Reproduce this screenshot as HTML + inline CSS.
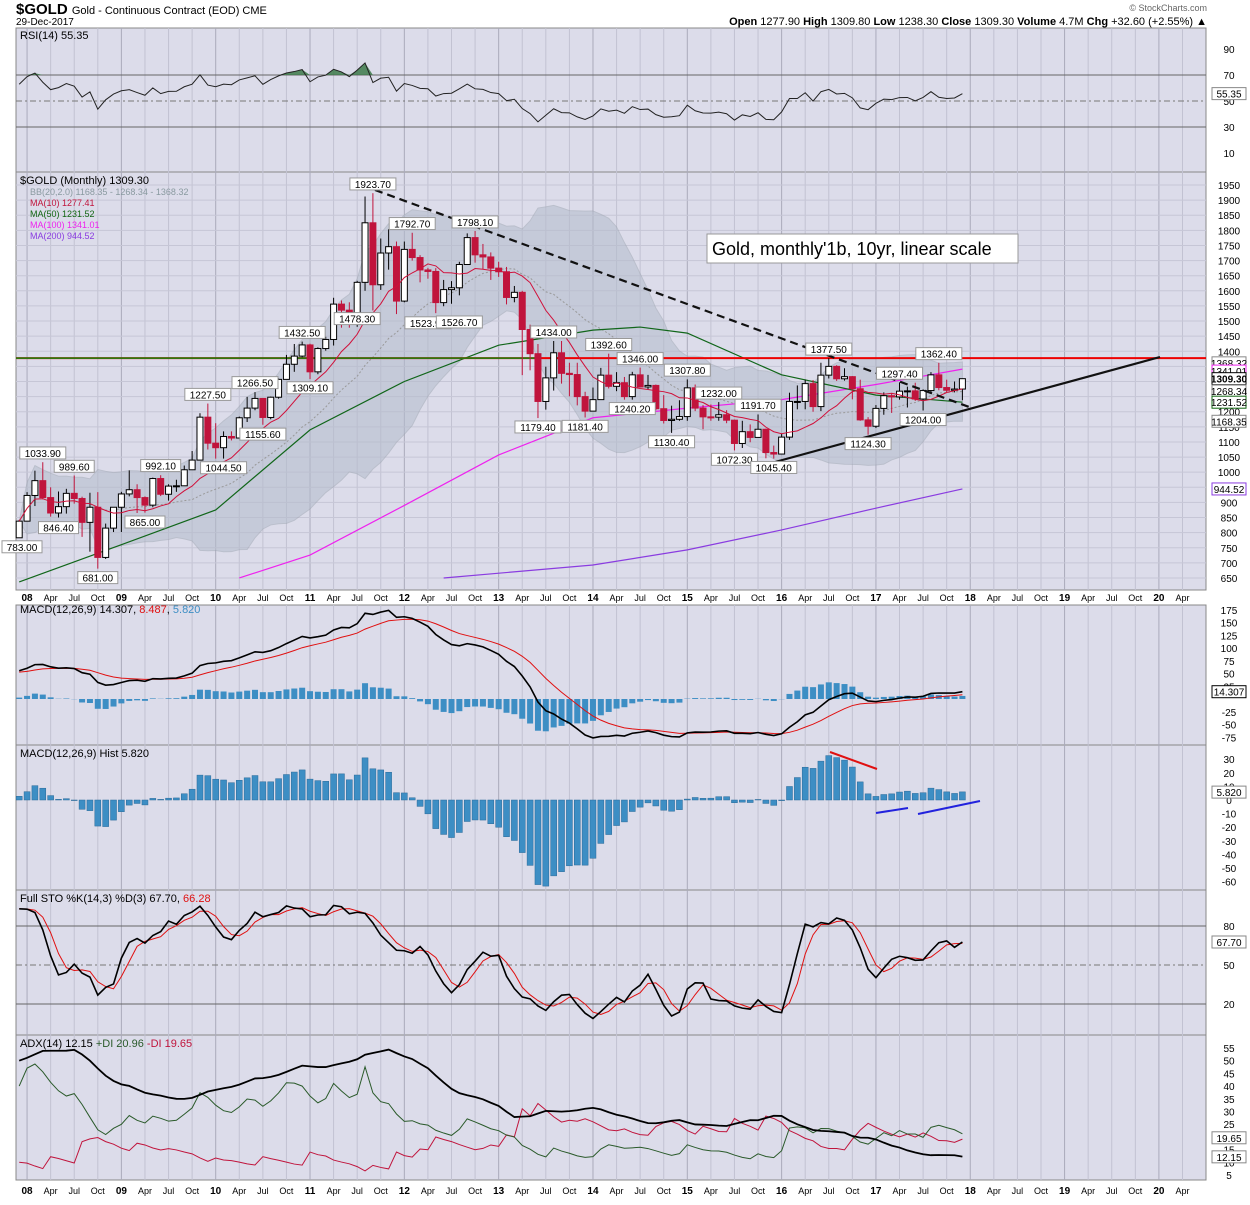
<!DOCTYPE html>
<html><head><meta charset="utf-8"><style>
body{margin:0;background:#fff;font-family:"Liberation Sans",sans-serif;}
svg text{font-family:"Liberation Sans",sans-serif;}
</style></head><body>
<svg id="c" width="1250" height="1200" xmlns="http://www.w3.org/2000/svg">
<text x="16" y="14" font-size="15" font-weight="bold">$GOLD <tspan font-size="11" font-weight="normal">Gold - Continuous Contract (EOD) CME</tspan></text>
<text x="16" y="25" font-size="10">29-Dec-2017</text>
<text x="1207" y="25" font-size="11" text-anchor="end"><tspan font-weight="bold">Open</tspan> 1277.90 <tspan font-weight="bold">High</tspan> 1309.80 <tspan font-weight="bold">Low</tspan> 1238.30 <tspan font-weight="bold">Close</tspan> 1309.30 <tspan font-weight="bold">Volume</tspan> 4.7M <tspan font-weight="bold">Chg</tspan> +32.60 (+2.55%) ▲</text>
<text x="1207" y="11" font-size="9" text-anchor="end" fill="#666">© StockCharts.com</text>
<g id="g"></g>
</svg>
<script>
const closes=[838,
923,972,916,865,886,930,913,834,884,718,815,884,
928,942,916,891,979,927,954,955,1008,1040,1182,1096,
1081,1118,1113,1180,1212,1244,1181,1248,1307,1357,1384,1421,
1332,1409,1439,1556,1536,1500,1628,1825,1620,1725,1746,1566,
1737,1710,1669,1664,1561,1604,1610,1687,1776,1719,1712,1675,
1663,1578,1595,1472,1392,1234,1312,1395,1327,1323,1250,1202,
1240,1321,1284,1296,1250,1322,1282,1287,1210,1171,1175,1184,
1279,1212,1183,1182,1190,1172,1095,1134,1115,1142,1065,1060,
1116,1234,1234,1293,1217,1321,1350,1309,1316,1276,1173,1152,
1211,1253,1249,1268,1269,1242,1270,1322,1280,1271,1275,1309.3];
const highs=[842,
934,1005,1033,950,936,945,989,919,932,934,830,881,
935,1006,960,920,982,990,960,975,1022,1070,1195,1227,
1162,1135,1135,1184,1249,1265,1200,1250,1310,1388,1424,1432,
1425,1413,1448,1577,1568,1562,1633,1912,1923,1773,1804,1763,
1763,1792,1718,1676,1675,1636,1632,1696,1790,1798,1755,1727,
1696,1679,1616,1600,1488,1424,1349,1434,1434,1362,1362,1266,
1280,1345,1392,1331,1315,1332,1346,1322,1290,1255,1220,1238,
1307,1290,1222,1224,1232,1205,1174,1170,1158,1191,1144,1088,
1128,1263,1287,1306,1305,1362,1377,1354,1344,1318,1306,1182,
1222,1264,1262,1297,1283,1296,1274,1331,1362,1306,1300,1310];
const lows=[783,
846,888,910,853,850,863,896,786,737,681,713,802,
802,920,865,866,884,921,906,935,997,1022,1040,1075,
1045,1045,1105,1116,1166,1205,1157,1175,1243,1315,1332,1380,
1308,1324,1402,1419,1478,1478,1481,1600,1535,1603,1670,1523,
1562,1700,1628,1640,1526,1549,1557,1585,1686,1693,1672,1636,
1646,1555,1562,1321,1337,1179,1207,1270,1293,1251,1221,1181,
1202,1242,1277,1268,1240,1240,1280,1273,1205,1161,1130,1170,
1170,1202,1142,1170,1170,1162,1072,1080,1099,1137,1046,1045,
1062,1107,1208,1208,1200,1202,1310,1302,1303,1241,1170,1124,
1146,1190,1196,1240,1214,1236,1204,1262,1271,1264,1264,1238];
const opens=[783].concat(closes.slice(0,-1));
const ma50Idx=[0,13,25,37,49,61,73,79,85,97,109,120];
const ma50Val=[637,760,875,1140,1300,1420,1470,1480,1460,1322,1255,1231.5];
const ma100Idx=[28,37,49,61,73,85,97,109,120];
const ma100Val=[650,726,890,1057,1180,1212,1240,1290,1341];
const ma200Idx=[54,73,85,97,109,120];
const ma200Val=[650,693,743,809,881,944.5];
const priceTicks=[1950,1900,1850,1800,1750,1700,1650,1600,1550,1500,1450,1400,1350,1300,1250,1200,1150,1100,1050,1000,950,900,850,800,750,700,650];
const yearLabels=['08','09','10','11','12','13','14','15','16','17','18','19','20'];
const annotations=[[45,1923.7,'1923.70',1],[50,1792.7,'1792.70',1],[58,1798.1,'1798.10',1],[52,1523.9,'1523.90',0],[56,1526.7,'1526.70',0],[43,1478.3,'1478.30',1],
[36,1432.5,'1432.50',1],[37,1309.1,'1309.10',0],[30,1266.5,'1266.50',1],[24,1227.5,'1227.50',1],[31,1155.6,'1155.60',0],[26,1044.5,'1044.50',0],
[3,1033.9,'1033.90',1],[7,989.6,'989.60',1],[5,846.4,'846.40',0],[18,992.1,'992.10',1],[16,865,'865.00',0],[0,783,'783.00',0],[10,681,'681.00',0],
[68,1434,'1434.00',1],[66,1179.4,'1179.40',0],[75,1392.6,'1392.60',1],[72,1181.4,'1181.40',0],[79,1346,'1346.00',1],[78,1240.2,'1240.20',0],
[85,1307.8,'1307.80',1],[83,1130.4,'1130.40',0],[89,1232,'1232.00',1],[94,1191.7,'1191.70',1],[91,1072.3,'1072.30',0],[96,1045.4,'1045.40',0],
[103,1377.5,'1377.50',1],[108,1124.3,'1124.30',0],[112,1297.4,'1297.40',1],[115,1204,'1204.00',0],[117,1362.4,'1362.40',1]];

const NS='http://www.w3.org/2000/svg',G=document.getElementById('g');
function el(t,a,p){const e=document.createElementNS(NS,t);for(const k in a)e.setAttribute(k,a[k]);(p||G).appendChild(e);return e;}
const L=16,R=1206;
const X=i=>19.2+i*7.86;
const N=closes.length;
function ema(a,n,seed){const k=2/(n+1);let r=[],v=seed;for(let i=0;i<a.length;i++){v=a[i]*k+v*(1-k);r.push(v);}return r;}
function sma(a,n){return a.map((_,i)=>{const s=a.slice(Math.max(0,i-n+1),i+1);return s.reduce((x,y)=>x+y,0)/s.length;});}
const ma10=sma(closes,10);
const bbM=sma(closes,20);
const bbS=closes.map((_,i)=>{const s=closes.slice(Math.max(0,i-19),i+1);const m=bbM[i];return Math.sqrt(s.reduce((x,y)=>x+(y-m)*(y-m),0)/s.length);});
let rsi=[];{let ag=22,al=13;rsi[0]=100-100/(1+ag/al);for(let i=1;i<N;i++){const d=closes[i]-closes[i-1];const g=Math.max(d,0),l=Math.max(-d,0);ag=(ag*13+g)/14;al=(al*13+l)/14;rsi[i]=100-100/(1+ag/al);}}
const e12=ema(closes,12,805),e26=ema(closes,26,748);const macd=closes.map((_,i)=>e12[i]-e26[i]);const sig=ema(macd,9,52);const hist=macd.map((v,i)=>v-sig[i]);
const rawK=closes.map((c,i)=>{const h=Math.max(...highs.slice(Math.max(0,i-13),i+1)),l=Math.min(...lows.slice(Math.max(0,i-13),i+1));return (c-l)/(h-l)*100;});
const stoK=sma(rawK,3),stoD=sma(stoK,3);
let pdi=[],mdi=[],adx=[];{let tr=14*65,pd=14*27,md=14*7,ax=50;pdi[0]=40;mdi[0]=10;adx[0]=50;for(let i=1;i<N;i++){const up=highs[i]-highs[i-1],dn=lows[i-1]-lows[i];const p=up>dn&&up>0?up:0,m=dn>up&&dn>0?dn:0;const t=Math.max(highs[i]-lows[i],Math.abs(highs[i]-closes[i-1]),Math.abs(lows[i]-closes[i-1]));tr=tr-tr/14+t;pd=pd-pd/14+p;md=md-md/14+m;pdi[i]=100*pd/tr;mdi[i]=100*md/tr;const dx=100*Math.abs(pdi[i]-mdi[i])/(pdi[i]+mdi[i]||1);ax=(ax*13+dx)/14;adx[i]=ax;}}
const panels={rsi:[28,172],price:[172,590],macd:[605,745],hist:[745,890],sto:[890,1035],adx:[1035,1180]};
for(const k in panels){const [t,b]=panels[k];const r=el('rect',{x:L,y:t,width:R-L,height:b-t,fill:'#dcdcea',stroke:'#888','stroke-width':1});
}
function vgrid(t,b){for(let y=0;y<13;y++)for(let q=0;q<4;q++){const i=1+y*12+q*3;const x=X(i);if(x>R)continue;const ln=el('line',{x1:x,x2:x,y1:t,y2:b,stroke:q?'#c2c2d2':'#aaaabb','stroke-width':1});}}
for(const k in panels)vgrid(...panels[k]);
function xaxis(y){const g=el('g',{});
for(let yy=0;yy<13;yy++){['',"Apr","Jul","Oct"].forEach((m,q)=>{const x=X(1+yy*12+q*3);if(x>R)return;const t=el('text',{x:x,y:y,'font-size':q?9:10,'font-weight':q?'normal':'bold','text-anchor':'middle'},g);t.textContent=q?m:yearLabels[yy];});}}
xaxis(601);xaxis(1194);
function hline(y,col,dash,name,w){const l=el('line',{x1:L,x2:R,y1:y,y2:y,stroke:col,'stroke-width':w||1});if(dash)l.setAttribute('stroke-dasharray',dash);return l;}
function rlabel(y,txt,col,box,name,bold){if(box){const r=el('rect',{x:1212,y:y-6,width:34,height:12,fill:'#fff',stroke:col});}
const t=el('text',{x:1229,y:y+4,'font-size':10,'text-anchor':'middle',fill:'#000','font-weight':bold?'bold':'normal'});t.textContent=txt;}
function poly(pts,col,w,name,dash){const p=el('polyline',{points:pts.map(a=>a.join(',')).join(' '),fill:'none',stroke:col,'stroke-width':w||1});if(dash)p.setAttribute('stroke-dasharray',dash);return p;}
const yR=v=>101-(v-50)*1.3;
[90,70,50,30,10].forEach(v=>{rlabel(yR(v),String(v),'#000',false,'rsi-tick-'+v);});
hline(yR(70),'#666',null,'rsi-70-line');hline(yR(30),'#666',null,'rsi-30-line');hline(yR(50),'#777','6,3,2,3','rsi-50-line');
{let d='M'+X(0)+','+yR(70);rsi.forEach((v,i)=>{d+=' L'+X(i)+','+yR(Math.max(v,70));});d+=' L'+X(N-1)+','+yR(70)+'Z';const a=el('path',{d:d,fill:'#3d7a4a',opacity:0.85});}
poly(rsi.map((v,i)=>[X(i),yR(v)]),'#222',1,'rsi-line');
{const t=el('text',{x:20,y:39,'font-size':11});t.textContent='RSI(14) 55.35';}
rlabel(yR(rsi[N-1]),'55.35','#888',true,'rsi-value-label');
const yP=v=>185+(1950-v)*0.3023;
priceTicks.forEach(v=>rlabel(yP(v),String(v),'#000',false,'price-tick-'+v));
priceTicks.forEach(v=>{const l=el('line',{x1:L,x2:R,y1:yP(v),y2:yP(v),stroke:'#c6c6d6'});});
{let up=[],dn=[];for(let i=0;i<N;i++){up.push([X(i),yP(bbM[i]+2*bbS[i])]);dn.push([X(i),yP(bbM[i]-2*bbS[i])]);}
const d='M'+up.map(a=>a.join(',')).join(' L')+' L'+dn.reverse().map(a=>a.join(',')).join(' L')+'Z';const b=el('path',{d:d,fill:'#b4bccc',opacity:0.55,stroke:'#a0a8b4'});}
poly(bbM.map((v,i)=>[X(i),yP(v)]),'#999',1,'bb-middle','2,2');
poly(ma200Idx.map((j,k)=>[X(j),yP(ma200Val[k])]),'#8a3ce0',1.2,'ma200-line');
poly(ma100Idx.map((j,k)=>[X(j),yP(ma100Val[k])]),'#ee22ee',1.2,'ma100-line');
poly(ma50Idx.map((j,k)=>[X(j),yP(ma50Val[k])]),'#11661a',1.2,'ma50-line');
hline(yP(1377.5),'#ee0000',null,'resistance-line',2);
{const l=el('line',{x1:L,x2:540,y1:yP(1377.5),y2:yP(1377.5),stroke:'#118811','stroke-width':1.5});}
for(let i=0;i<N;i++){const o=opens[i],c=closes[i],x=X(i);const g=el('g',{});
el('line',{x1:x,x2:x,y1:yP(highs[i]),y2:yP(lows[i]),stroke:c>=o?'#000':'#c0143c'},g);
const t=yP(Math.max(o,c)),b=yP(Math.min(o,c));el('rect',{x:x-3,y:t,width:6,height:Math.max(1,b-t),fill:c>=o?'#fff':'#c0143c',stroke:c>=o?'#000':'#c0143c'},g);}
poly(ma10.map((v,i)=>[X(i),yP(v)]),'#d0103a',1,'ma10-line');
{const l=el('line',{x1:375,y1:190,x2:972,y2:408,stroke:'#111','stroke-width':2.2,'stroke-dasharray':'8,5'});
const l2=el('line',{x1:775,y1:462,x2:1160,y2:357,stroke:'#111','stroke-width':2.2});}
annotations.forEach(a=>{const w=a[2].length*6+4;const x=Math.max(X(a[0]),w/2+2);const y=a[3]?yP(a[1])-9:yP(a[1])+9;
const r=el('rect',{x:x-w/2,y:y-6,width:w,height:12,fill:'#fff',stroke:'#999'});
const t=el('text',{x:x,y:y+4,'font-size':10,'text-anchor':'middle'});t.textContent=a[2];});
{const r=el('rect',{x:707,y:234,width:311,height:29,fill:'#fff',stroke:'#999'});
const t=el('text',{x:712,y:255,'font-size':18});t.textContent="Gold, monthly'1b, 10yr, linear scale";}
[['$GOLD (Monthly) 1309.30','#000',11],['BB(20,2.0) 1168.35 - 1268.34 - 1368.32','#8a9aa0',9],['MA(10) 1277.41','#c0143c',9],['MA(50) 1231.52','#116611',9],['MA(100) 1341.01','#ee22ee',9],['MA(200) 944.52','#8a3ce0',9]].forEach((a,k)=>{const t=el('text',{x:k?30:20,y:184+k*11,'font-size':a[2],fill:a[1]});t.textContent=a[0];});
[[1368.32,'#888'],[1341.01,'#ee22ee'],[1309.3,'#000'],[1268.34,'#888'],[1231.52,'#116611'],[1168.35,'#888'],[944.52,'#8a3ce0']].forEach(a=>rlabel(yP(a[0])+(a[0]===1368.32?2:a[0]===1341.01?2:0),a[0].toFixed(2),a[1],true,'price-value-label',a[0]===1309.3));
const yM=v=>699-v*0.51;
[175,150,125,100,75,50,25,-25,-50,-75].forEach(v=>rlabel(yM(v),String(v),'#000',false,'macd-tick'));
hist.forEach((v,i)=>{const r=el('rect',{x:X(i)-3,y:Math.min(yM(v),yM(0)),width:6,height:Math.abs(yM(v)-yM(0)),fill:'#3d8ec4'});});
poly(sig.map((v,i)=>[X(i),yM(v)]),'#e01010',1,'macd-signal-line');
poly(macd.map((v,i)=>[X(i),yM(v)]),'#000',1.6,'macd-line');
{const t=el('text',{x:20,y:613,'font-size':11});t.innerHTML='MACD(12,26,9) 14.307, <tspan fill="#e01010">8.487</tspan>, <tspan fill="#3d8ec4">5.820</tspan>';}
rlabel(yM(14.3),'14.307','#000',true,'macd-value-label');
const yH=v=>800-v*1.36;
[30,20,10,0,-10,-20,-30,-40,-50,-60].forEach(v=>rlabel(yH(v),String(v),'#000',false,'hist-tick'));
hist.forEach((v,i)=>{const r=el('rect',{x:X(i)-3,y:Math.min(yH(v),yH(0)),width:6,height:Math.abs(yH(v)-yH(0)),fill:'#3d8ec4',stroke:'#2a6a99','stroke-width':0.5});});
{const t=el('text',{x:20,y:757,'font-size':11});t.textContent='MACD(12,26,9) Hist 5.820';}
rlabel(yH(5.8),'5.820','#888',true,'hist-value-label');
{const l=el('line',{x1:830,y1:752,x2:877,y2:769,stroke:'#e01010','stroke-width':2});
const l2=el('line',{x1:876,y1:813,x2:908,y2:808,stroke:'#2222dd','stroke-width':2});
const l3=el('line',{x1:918,y1:814,x2:980,y2:801,stroke:'#2222dd','stroke-width':2});}
const yS=v=>965-(v-50)*1.3;
[80,50,20].forEach(v=>rlabel(yS(v),String(v),'#000',false,'sto-tick'));
hline(yS(80),'#666',null,'sto-80-line');hline(yS(20),'#666',null,'sto-20-line');hline(yS(50),'#777','6,3,2,3','sto-50-line');
poly(stoD.map((v,i)=>[X(i),yS(v)]),'#e01010',1,'sto-d-line');
poly(stoK.map((v,i)=>[X(i),yS(v)]),'#000',1.6,'sto-k-line');
{const t=el('text',{x:20,y:902,'font-size':11});t.innerHTML='Full STO %K(14,3) %D(3) 67.70, <tspan fill="#e01010">66.28</tspan>';}
rlabel(yS(67.7),'67.70','#888',true,'sto-value-label');
const yA=v=>1175-(v-5)*2.54;
[55,50,45,40,35,30,25,20,15,10,5].forEach(v=>rlabel(yA(v),String(v),'#000',false,'adx-tick'));
poly(mdi.map((v,i)=>[X(i),yA(v)]),'#c0143c',1,'minus-di-line');
poly(pdi.map((v,i)=>[X(i),yA(v)]),'#2a5a2a',1,'plus-di-line');
poly(adx.map((v,i)=>[X(i),yA(v)]),'#000',1.8,'adx-line');
{const t=el('text',{x:20,y:1047,'font-size':11});t.innerHTML='ADX(14) 12.15 <tspan fill="#2a5a2a">+DI 20.96</tspan> <tspan fill="#c0143c">-DI 19.65</tspan>';}
rlabel(yA(19.65),'19.65','#888',true,'minus-di-label');rlabel(yA(12.15),'12.15','#888',true,'adx-value-label');
</script>
</body></html>
